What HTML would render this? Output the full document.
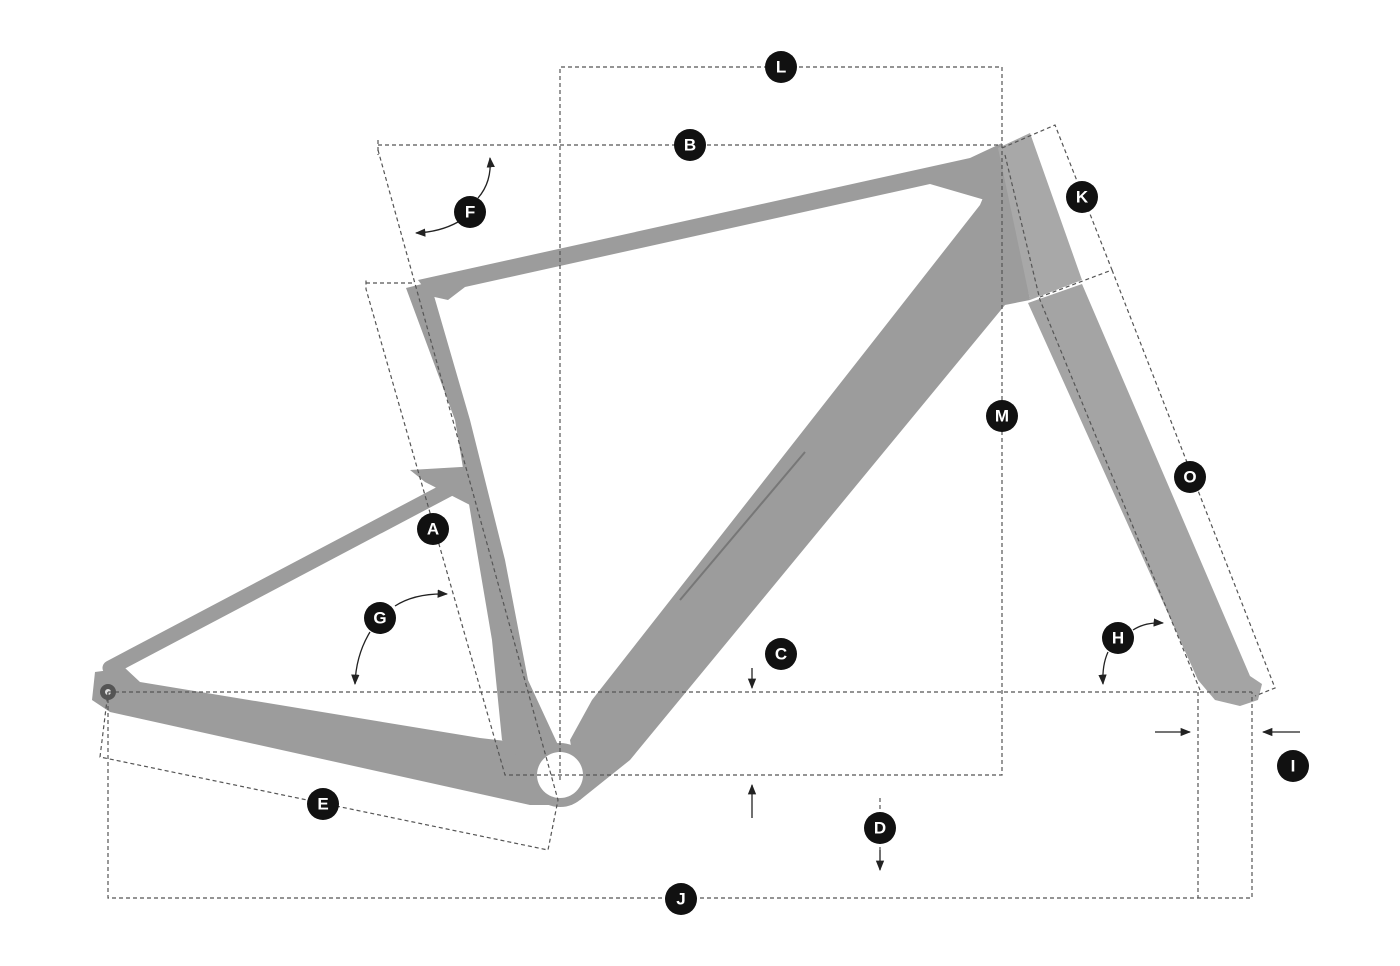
<!DOCTYPE html>
<html><head><meta charset="utf-8"><style>
html,body{margin:0;padding:0;background:#fff;}
svg{display:block;}
.d{stroke:#555;stroke-width:1.2;stroke-dasharray:4 3;fill:none;}
.a{stroke:#222;stroke-width:1.3;fill:none;}
.lb circle{fill:#111;}
.lb text{fill:#fff;font-family:"Liberation Sans",sans-serif;font-weight:bold;font-size:17px;text-anchor:middle;dominant-baseline:central;}
</style></head><body>
<svg width="1400" height="966" viewBox="0 0 1400 966" xmlns="http://www.w3.org/2000/svg">
<defs>
<marker id="ar" viewBox="0 0 10 10" refX="9" refY="5" markerWidth="8" markerHeight="8" orient="auto"><path d="M0,1 L10,5 L0,9 z" fill="#222"/></marker>
</defs>
<g fill="#9c9c9c" stroke="none">
<line x1="470" y1="478" x2="110" y2="668" stroke="#9c9c9c" stroke-width="15" stroke-linecap="round"/>
<polygon points="410,470 478,466 490,510 470,505 425,482"/>
<polygon points="95,672 125,668 140,682 480,738 540,745 555,805 530,805 110,712 92,700"/>
<polygon points="406,288 430,282 470,420 505,560 528,680 565,760 535,775 502,740 492,640 475,540 455,420"/>
<polygon points="418,280 970,158 1002,143 1003,205 985,200 930,184 465,287 448,300 430,296"/>
<polygon points="980,205 1003,150 1030,300 1005,305 630,760 580,800 570,740 592,700"/>
<polygon points="998,148 1030,133 1082,280 1030,300" fill="#a8a8a8"/>
<polygon points="1028,303 1082,284 1250,676 1262,684 1258,700 1240,706 1215,700 1198,680" fill="#a4a4a4"/>
<circle cx="560" cy="775" r="32"/>
</g>
<circle cx="560" cy="775" r="23" fill="#fff"/>
<circle cx="108" cy="692" r="8" fill="#555"/>
<circle cx="108" cy="692" r="3" fill="#ddd"/>
<line x1="680" y1="600" x2="805" y2="452" stroke="#777" stroke-width="2"/>

<path class="d" d="M560,780 V67 H1002 V775 H505 L366,289 V280 M366,283 H415"/>
<path class="d" d="M378,140 V155 M378,145 H1000"/>
<path class="d" d="M378,150 L558,800 L548,850 L100,757 L108,692"/>
<path class="d" d="M108,692 H1252 M108,692 V898 H1252 V692 M1198,692 V898"/>
<path class="d" d="M1002,148 L1055,125 L1112,270 L1040,297 M1112,270 L1275,688 L1255,696"/>
<path class="d" d="M1005,155 L1040,300 L1200,690"/>
<path class="d" d="M880,798 V850"/>

<line class="a" x1="752" y1="668" x2="752" y2="688" marker-end="url(#ar)"/>
<line class="a" x1="752" y1="818" x2="752" y2="785" marker-end="url(#ar)"/>
<line class="a" x1="880" y1="850" x2="880" y2="870" marker-end="url(#ar)"/>
<line class="a" x1="1155" y1="732" x2="1190" y2="732" marker-end="url(#ar)"/>
<line class="a" x1="1300" y1="732" x2="1263" y2="732" marker-end="url(#ar)"/>
<path class="a" d="M478,198 Q492,182 490,158" marker-end="url(#ar)"/>
<path class="a" d="M458,222 Q440,232 416,233" marker-end="url(#ar)"/>
<path class="a" d="M395,606 Q415,593 447,594" marker-end="url(#ar)"/>
<path class="a" d="M370,632 Q356,655 355,684" marker-end="url(#ar)"/>
<path class="a" d="M1133,630 Q1145,622 1163,623" marker-end="url(#ar)"/>
<path class="a" d="M1108,652 Q1102,665 1103,684" marker-end="url(#ar)"/>

<g class="lb">
<g transform="translate(781,67)"><circle r="16"/><text>L</text></g>
<g transform="translate(690,145)"><circle r="16"/><text>B</text></g>
<g transform="translate(470,212)"><circle r="16"/><text>F</text></g>
<g transform="translate(1082,197)"><circle r="16"/><text>K</text></g>
<g transform="translate(433,529)"><circle r="16"/><text>A</text></g>
<g transform="translate(380,618)"><circle r="16"/><text>G</text></g>
<g transform="translate(1002,416)"><circle r="16"/><text>M</text></g>
<g transform="translate(1190,477)"><circle r="16"/><text>O</text></g>
<g transform="translate(1118,638)"><circle r="16"/><text>H</text></g>
<g transform="translate(781,654)"><circle r="16"/><text>C</text></g>
<g transform="translate(880,828)"><circle r="16"/><text>D</text></g>
<g transform="translate(323,804)"><circle r="16"/><text>E</text></g>
<g transform="translate(1293,766)"><circle r="16"/><text>I</text></g>
<g transform="translate(681,899)"><circle r="16"/><text>J</text></g>
</g>
</svg>
</body></html>
